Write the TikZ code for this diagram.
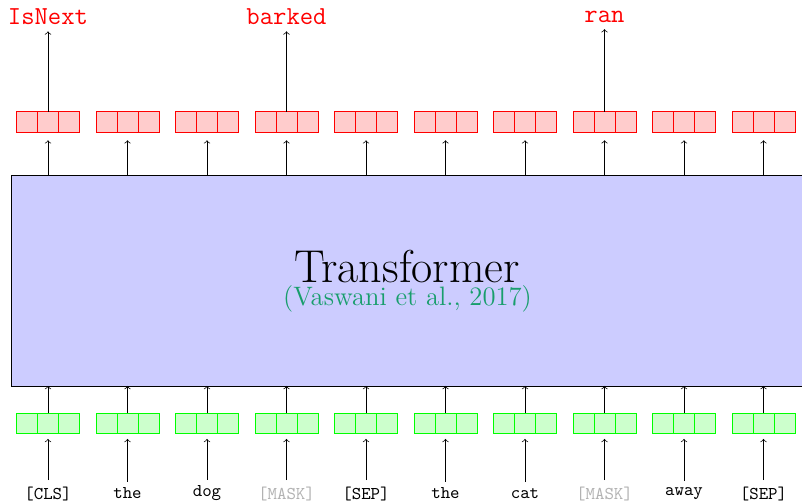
\documentclass[tikz,border=0pt]{standalone}
\usetikzlibrary{arrows}
\definecolor{citegreen}{RGB}{24,158,108}
\begin{document}
\begin{tikzpicture}[x=0.5556pt,y=-0.5556pt,
  cell/.style={draw=#1,fill=#1!20,line width=0.5pt,minimum width=11.7pt,minimum height=11.5pt,inner sep=0pt,outer sep=0pt},
  tfbox/.style={draw=black,fill=blue!20,minimum width=455pt,minimum height=117.2pt,inner sep=0pt,outer sep=0pt},
  arr/.style={->,black},
  toplab/.style={font=\Large\ttfamily,text=red},
  botlab/.style={font=\ttfamily},
  masked/.style={text=black!30}]
\clip (0,0) rectangle (802,502);
\node[tfbox] (tf) at (420.5,280.5) {};
\node[anchor=base,font=\fontsize{25.6}{30}\selectfont] (tftext) at (407,282) {Transformer};
\node[anchor=base,font=\fontsize{14.8}{18}\selectfont,text=citegreen] (cite) at (407.5,305) {(Vaswani et al., 2017)};
\foreach \i/\w/\s in {0/[CLS]/,1/the/,2/dog/,3/[MASK]/masked,4/[SEP]/,5/the/,6/cat/,7/[MASK]/masked,8/away/,9/[SEP]/}{
  \pgfmathsetmacro{\cx}{48+79.5*\i}
  \node[cell=green] (g\i b) at (\cx,423.5) {};
  \node[cell=green] (g\i a) at (\cx-21,423.5) {};
  \node[cell=green] (g\i c) at (\cx+21,423.5) {};
  \node[cell=red] (r\i b) at (\cx,122) {};
  \node[cell=red] (r\i a) at (\cx-21,122) {};
  \node[cell=red] (r\i c) at (\cx+21,122) {};
  \node[botlab,\s] (w\i) at (\cx,493.5) {\w};
  \draw[arr,shorten >=2.8pt] (w\i.north) -- (g\i b.south);
  \draw[arr] (g\i b.north) -- (g\i b.north |- tf.south);
  \draw[arr,shorten >=4.4pt] (r\i b.south |- tf.north) -- (r\i b.south);
}
\foreach \i/\w in {0/IsNext,3/barked,7/ran}{
  \node[toplab] (o\i) at (r\i b |- 0,17) {\w};
  \draw[arr] (r\i b.north) -- (o\i.south);
}
\end{tikzpicture}
\end{document}
